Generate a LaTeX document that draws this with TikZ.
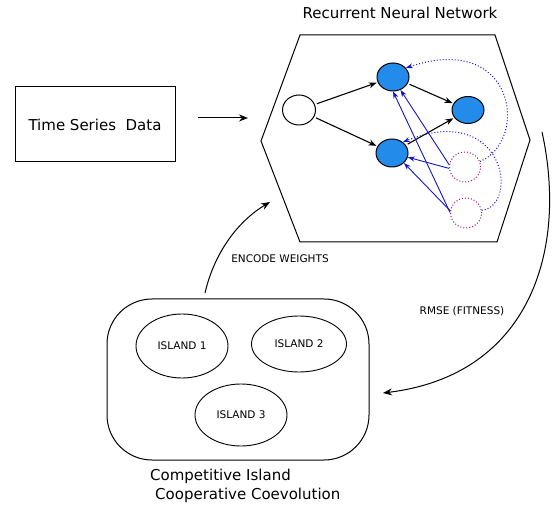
\documentclass[tikz,border=0pt]{standalone}
\usepackage{fontspec}
\setmainfont{DejaVu Sans}
\usetikzlibrary{shapes.geometric,arrows.meta}
\definecolor{nodeblue}{RGB}{35,140,235}
\definecolor{linkblue}{RGB}{20,20,200}
\definecolor{ctxpurple}{RGB}{140,20,130}
\begin{document}
\begin{tikzpicture}[x=1pt,y=1pt,
  bigtext/.style={font=\fontsize{15}{18}\selectfont},
  smalltext/.style={font=\fontsize{10.5}{12}\selectfont},
  neuron/.style={ellipse, draw, line width=1pt, minimum width=32pt, minimum height=28pt, inner sep=0pt},
  hid/.style={neuron, fill=nodeblue},
  ctx/.style={ellipse, draw=ctxpurple, dotted, line width=1pt, minimum width=31pt, minimum height=30pt, inner sep=0pt},
  island/.style={ellipse, draw, line width=0.9pt, inner sep=0pt, smalltext},
  flow/.style={-{Stealth[length=9pt,width=7pt]}, line width=1pt},
  blk/.style={-{Stealth[length=8pt,width=6pt]}, line width=1.1pt, shorten <=2pt, shorten >=1pt},
  blu/.style={-{Stealth[length=7pt,width=5pt]}, linkblue, line width=0.9pt},
  bludot/.style={-{Stealth[length=7pt,width=5pt]}, linkblue, dotted, line width=1pt},
]
\useasboundingbox (0,0) rectangle (556,506);

% title
\node[bigtext] (title) at (400,493) {Recurrent Neural Network};

% time series box
\node[draw, line width=1pt, minimum width=160pt, minimum height=75pt, inner sep=0pt, bigtext] (ts) at (95,381.5) {Time Series~~Data};

% hexagon (RNN frame)
\coordinate (hA) at (300,471);
\coordinate (hB) at (495,471);
\coordinate (hC) at (530,366);
\coordinate (hD) at (497,264);
\coordinate (hE) at (300,264);
\coordinate (hF) at (261,365);
\draw[line width=1pt] (hA) -- (hB) -- (hC) -- (hD) -- (hE) -- (hF) -- cycle;

% neurons
\node[neuron, fill=white, minimum width=33pt, minimum height=30pt] (in) at (299,396) {};
\node[hid] (h1) at (393,429) {};
\node[hid] (h2) at (392,353) {};
\node[hid, minimum height=27pt] (out) at (468,396) {};
\node[ctx] (c1) at (465,339) {};
\node[ctx] (c2) at (466,293) {};

% black links
\draw[blk] (in) -- (h1);
\draw[blk] (in) -- (h2);
\draw[blk] (h1) -- (out);
\draw[blk] (h2) -- (out);

% blue links from context units
\draw[blu] (c1.185) -- (h2.-15);
\draw[blu] (c1.172) -- (h1.-60);
\draw[blu] (c2.178) -- (h1.-90);
\draw[blu] (c2.172) -- (h2.-40);

% dotted recurrent arcs
\draw[bludot] (c1.20) .. controls (530,366) and (515,475) .. (h1.35);
\draw[bludot] (c2.10) .. controls (520,300) and (505,405) .. (h2.45);

% time series -> RNN
\coordinate (tsA) at (198,388);
\coordinate (tsB) at (248,388);
\draw[flow] (tsA) -- (tsB);

% CICC box
\node[draw, line width=1pt, rounded corners=45pt, minimum width=262pt, minimum height=161pt, inner sep=0pt] (cicc) at (238,126.5) {};
\node[island, minimum width=92pt, minimum height=64pt] (i1) at (182,160) {ISLAND 1};
\node[island, minimum width=95pt, minimum height=56pt] (i2) at (299,162) {ISLAND 2};
\node[island, minimum width=92pt, minimum height=62pt] (i3) at (241,91) {ISLAND 3};

\node[bigtext, anchor=west, inner sep=0pt] (cap1) at (150,30) {Competitive Island};
\node[bigtext, anchor=west, inner sep=0pt] (cap2) at (155,11) {Cooperative Coevolution};

% RMSE feedback
\coordinate (rA) at (542,374);
\coordinate (rB) at (383,113);
\draw[flow] (rA) .. controls (568,256) and (530,131) .. (rB);
\node[smalltext] (rmse) at (462,195) {RMSE (FITNESS)};

% encode weights
\coordinate (eA) at (205,213);
\coordinate (eB) at (270,304);
\draw[flow] (eA) .. controls (215,256) and (240,286) .. (eB);
\node[smalltext] (enc) at (280,247) {ENCODE WEIGHTS};

\end{tikzpicture}
\end{document}
